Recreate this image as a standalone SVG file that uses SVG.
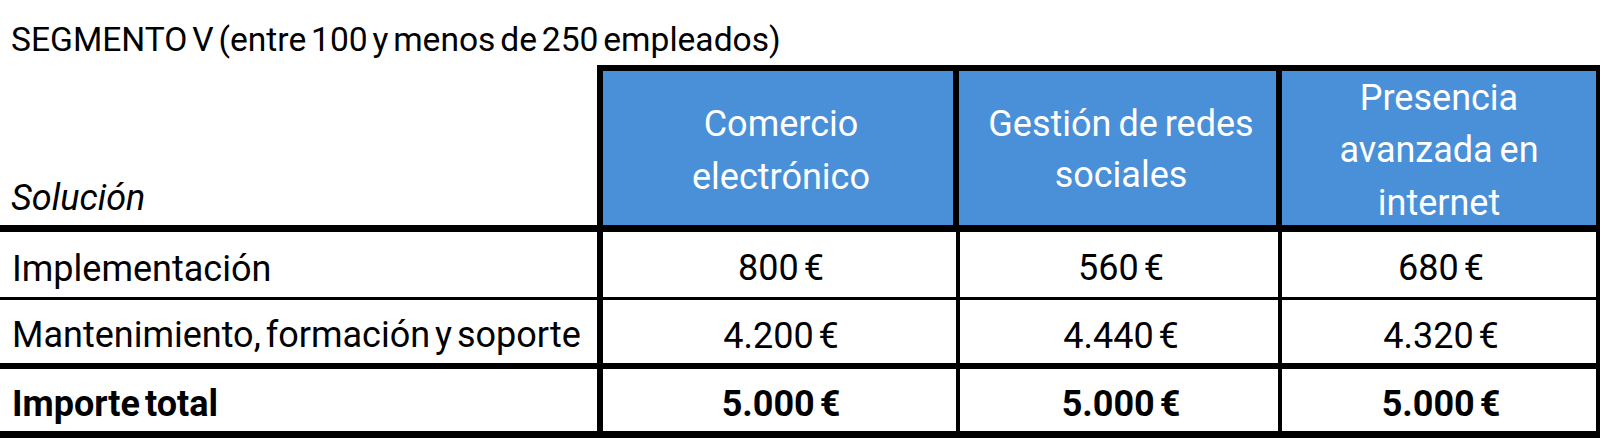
<svg xmlns="http://www.w3.org/2000/svg" width="1600" height="438" viewBox="0 0 1600 438">
<style>
text{font-family:Roboto,"Liberation Sans",sans-serif;font-size:36px;fill:#000;word-spacing:-4px}
.h{fill:#fff;text-anchor:middle;word-spacing:-2px}
.c{text-anchor:middle}
.b{font-weight:bold}
.ln{fill:#000}
</style>
<rect width="1600" height="438" fill="#fff"/>
<g id="title"><text x="11" y="51" style="font-size:33.6px;word-spacing:-3.5px">SEGMENTO V (entre 100 y menos de 250 empleados)</text></g>
<g id="header">
<rect x="597" y="65" width="1003" height="167" fill="#4A90D9"/>
<g id="h-sol"><text x="11" y="210" font-style="italic">Solución</text></g>
<g id="h-com"><text class="h" x="781" y="136">Comercio</text><text class="h" x="781" y="189">electrónico</text></g>
<g id="h-ges"><text class="h" x="1121" y="136">Gestión de redes</text><text class="h" x="1121" y="187">sociales</text></g>
<g id="h-pre"><text class="h" x="1439" y="110">Presencia</text><text class="h" x="1439" y="162">avanzada en</text><text class="h" x="1439" y="215">internet</text></g>
</g>
<g id="row-impl">
<text x="12" y="281">Implementación</text>
<text class="c" x="781" y="280">800 €</text>
<text class="c" x="1121" y="280">560 €</text>
<text class="c" x="1441" y="280">680 €</text>
</g>
<g id="row-mant">
<text x="12" y="347">Mantenimiento, formación y soporte</text>
<text class="c" x="781" y="348">4.200 €</text>
<text class="c" x="1121" y="348">4.440 €</text>
<text class="c" x="1441" y="348">4.320 €</text>
</g>
<g id="row-total">
<text class="b" x="12" y="416">Importe total</text>
<text class="c b" x="781" y="416">5.000 €</text>
<text class="c b" x="1121" y="416">5.000 €</text>
<text class="c b" x="1441" y="416">5.000 €</text>
</g>
<g id="grid">
<rect class="ln" x="597" y="65" width="1003" height="6"/>
<rect class="ln" x="597" y="65" width="6" height="373"/>
<rect class="ln" x="953" y="65" width="6" height="167"/>
<rect class="ln" x="1276" y="65" width="6" height="167"/>
<rect class="ln" x="1596" y="65" width="4" height="373"/>
<rect class="ln" x="956" y="232" width="4" height="206"/>
<rect class="ln" x="1278" y="232" width="4" height="206"/>
<rect class="ln" x="0" y="225" width="1600" height="7"/>
<rect class="ln" x="0" y="297" width="1600" height="3"/>
<rect class="ln" x="0" y="363" width="1600" height="6"/>
<rect class="ln" x="0" y="431" width="1600" height="7"/>
</g>
</svg>
